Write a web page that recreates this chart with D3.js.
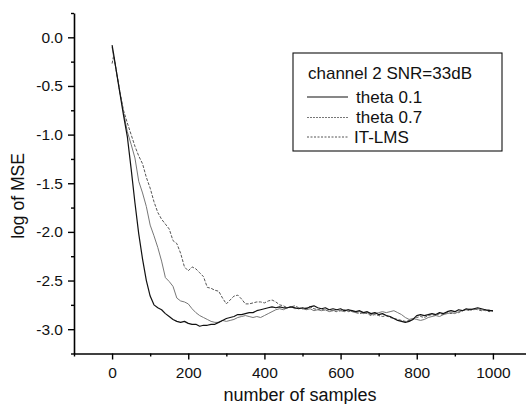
<!DOCTYPE html>
<html>
<head>
<meta charset="utf-8">
<script src="https://cdn.jsdelivr.net/npm/d3@7/dist/d3.min.js"></script>
<style>
  html, body { margin: 0; padding: 0; background: #fff; }
  svg { display: block; font-family: "Liberation Sans", Arial, Helvetica, sans-serif; }
</style>
</head>
<body>
<svg id="chart" width="526" height="404"></svg>
<script>
// ---- data ----
const samples = [0, 4, 10, 20, 30, 40, 50, 60, 70, 80, 90, 100, 110, 120, 130, 140, 150, 160, 170, 180, 190,
  200, 210, 220, 230, 240, 250, 260, 270, 280, 290, 300, 310, 320, 330, 340, 350, 360, 370, 380, 390,
  400, 410, 420, 430, 440, 450, 460, 470, 480, 490, 500, 510, 520, 530, 540, 550, 560, 570, 580, 590,
  600, 610, 620, 630, 640, 650, 660, 670, 680, 690, 700, 710, 720, 730, 740, 750, 760, 770, 780, 790,
  800, 810, 820, 830, 840, 850, 860, 870, 880, 890, 900, 910, 920, 930, 940, 950, 960, 970, 980, 990, 1000];

const theta01 = [-0.08, -0.17, -0.32, -0.56, -0.80, -1.02, -1.35, -1.70, -2.02, -2.28, -2.50,
  -2.66, -2.75, -2.78, -2.80, -2.84, -2.87, -2.90, -2.92, -2.93, -2.92,
  -2.94, -2.95, -2.95, -2.97, -2.96, -2.96, -2.95, -2.95, -2.93, -2.91,
  -2.89, -2.88, -2.87, -2.85, -2.85, -2.84, -2.83, -2.83, -2.81, -2.80,
  -2.79, -2.78, -2.77, -2.78, -2.77, -2.78, -2.78, -2.77, -2.78, -2.79,
  -2.78, -2.79, -2.77, -2.76, -2.78, -2.79, -2.78, -2.80, -2.79, -2.80,
  -2.79, -2.81, -2.80, -2.81, -2.82, -2.81, -2.83, -2.82, -2.84, -2.83,
  -2.85, -2.84, -2.86, -2.87, -2.89, -2.91, -2.92, -2.93, -2.92, -2.90,
  -2.86, -2.85, -2.86, -2.85, -2.84, -2.85, -2.83, -2.84, -2.82, -2.81,
  -2.82, -2.80, -2.81, -2.79, -2.80, -2.79, -2.78, -2.79, -2.80, -2.81, -2.81];

const theta07 = [-0.10, -0.20, -0.32, -0.55, -0.77, -0.97, -1.10, -1.24, -1.48, -1.60, -1.74,
  -1.93, -2.04, -2.16, -2.30, -2.47, -2.51, -2.56, -2.68, -2.71, -2.72,
  -2.74, -2.79, -2.83, -2.86, -2.88, -2.90, -2.92, -2.93, -2.93, -2.91,
  -2.92, -2.91, -2.90, -2.88, -2.87, -2.86, -2.87, -2.88, -2.87, -2.88,
  -2.86, -2.84, -2.82, -2.80, -2.79, -2.80, -2.78, -2.77, -2.79, -2.78,
  -2.79, -2.80, -2.79, -2.81, -2.80, -2.81, -2.80, -2.82, -2.81, -2.80,
  -2.81, -2.82, -2.80, -2.82, -2.83, -2.82, -2.84, -2.83, -2.85, -2.84,
  -2.83, -2.82, -2.83, -2.82, -2.81, -2.83, -2.85, -2.88, -2.90, -2.89,
  -2.90, -2.91, -2.90, -2.88, -2.87, -2.86, -2.87, -2.85, -2.84, -2.83,
  -2.84, -2.82, -2.81, -2.80, -2.79, -2.80, -2.79, -2.80, -2.81, -2.80, -2.82];

const itlms = [-0.27, -0.19, -0.32, -0.55, -0.75, -0.88, -1.00, -1.12, -1.22, -1.30, -1.44,
  -1.55, -1.69, -1.80, -1.87, -1.92, -1.97, -2.09, -2.12, -2.22, -2.36,
  -2.40, -2.36, -2.38, -2.42, -2.46, -2.57, -2.58, -2.60, -2.61, -2.68,
  -2.74, -2.70, -2.66, -2.65, -2.69, -2.74, -2.74, -2.73, -2.72, -2.72,
  -2.73, -2.71, -2.70, -2.72, -2.75, -2.76, -2.78, -2.77, -2.76, -2.78,
  -2.79, -2.78, -2.77, -2.79, -2.80, -2.79, -2.81, -2.80, -2.81, -2.82,
  -2.81, -2.80, -2.82, -2.81, -2.83, -2.84, -2.83, -2.84, -2.86, -2.85,
  -2.86, -2.87, -2.86, -2.88, -2.89, -2.90, -2.91, -2.92, -2.91, -2.90,
  -2.88, -2.87, -2.88, -2.86, -2.85, -2.86, -2.84, -2.85, -2.83, -2.84,
  -2.82, -2.83, -2.81, -2.80, -2.81, -2.79, -2.80, -2.81, -2.80, -2.82, -2.81];

const xMajorTicks = [0, 200, 400, 600, 800, 1000];
const xMinorTicks = [-100, 100, 300, 500, 700, 900, 1100];
const yMajorTicks = [0.0, -0.5, -1.0, -1.5, -2.0, -2.5, -3.0];
const yMinorTicks = [0.25, -0.25, -0.75, -1.25, -1.75, -2.25, -2.75, -3.25];

const seriesNames = ["theta 0.1", "theta 0.7", "IT-LMS"];
const legendTitle = "channel 2 SNR=33dB";
const xTitle = "number of samples";
const yTitle = "log of MSE";

// ---- drawing ----
const svg = d3.select("#chart");
const x = d3.scaleLinear().domain([-100, 1100]).range([74, 531]);
const y = d3.scaleLinear().domain([-3.25, 0.25]).range([353.5, 13]);

const styles = [
  { stroke: "#111", width: 1.2, dash: null },
  { stroke: "#777", width: 1.0, dash: null },
  { stroke: "#555", width: 1.0, dash: "3,1.5" }
];
const allSeries = [theta01, theta07, itlms];

const line = d3.line().x((d, i) => x(samples[i])).y(d => y(d));

// draw in reverse so theta 0.1 is on top
[2, 1, 0].forEach(k => {
  svg.append("path")
    .datum(allSeries[k])
    .attr("fill", "none")
    .attr("stroke", styles[k].stroke)
    .attr("stroke-width", styles[k].width)
    .attr("stroke-dasharray", styles[k].dash)
    .attr("stroke-linejoin", "round")
    .attr("d", line);
});

// axes
const tickFont = "15.5px";
const xAxisG = svg.append("g").attr("transform", "translate(0,353.5)");
xAxisG.call(d3.axisBottom(x).tickValues(xMajorTicks).tickSize(6).tickSizeOuter(0).tickPadding(7)
  .tickFormat(d => String(d)));
const xMinorG = svg.append("g").attr("transform", "translate(0,353.5)");
xMinorG.call(d3.axisBottom(x).tickValues(xMinorTicks).tickSize(3).tickSizeOuter(0).tickFormat(""));
xMinorG.select(".domain").remove();

const yAxisG = svg.append("g").attr("transform", "translate(74,0)");
yAxisG.call(d3.axisLeft(y).tickValues(yMajorTicks).tickSize(6).tickSizeOuter(0).tickPadding(5)
  .tickFormat(d => d.toFixed(1)));
const yMinorG = svg.append("g").attr("transform", "translate(74,0)");
yMinorG.call(d3.axisLeft(y).tickValues(yMinorTicks).tickSize(3).tickSizeOuter(0).tickFormat(""));
yMinorG.select(".domain").remove();

[xAxisG, yAxisG, xMinorG, yMinorG].forEach(g => {
  g.selectAll("path.domain").attr("stroke", "#000").attr("stroke-width", 1.6);
  g.selectAll(".tick line").attr("stroke", "#000").attr("stroke-width", 1.4);
  g.selectAll("text").attr("fill", "#111").style("font-size", tickFont)
    .style("font-family", "'Liberation Sans', Arial, sans-serif");
});

// axis titles
svg.append("text")
  .attr("x", 300).attr("y", 401)
  .attr("text-anchor", "middle")
  .style("font-size", "18px").attr("fill", "#111")
  .text(xTitle);
svg.append("text")
  .attr("transform", "translate(24,196) rotate(-90)")
  .attr("text-anchor", "middle")
  .style("font-size", "17.5px").attr("fill", "#111")
  .text(yTitle);

// legend
const lg = svg.append("g");
lg.append("rect")
  .attr("x", 293).attr("y", 53).attr("width", 209).attr("height", 98)
  .attr("fill", "#fff").attr("stroke", "#111").attr("stroke-width", 1.1);
lg.append("text")
  .attr("x", 308).attr("y", 79)
  .style("font-size", "17px").attr("fill", "#111")
  .text(legendTitle);
const rowY = [97, 117.5, 137];
seriesNames.forEach((name, k) => {
  lg.append("line")
    .attr("x1", 307).attr("x2", 348)
    .attr("y1", rowY[k]).attr("y2", rowY[k])
    .attr("stroke", styles[k].stroke)
    .attr("stroke-width", styles[k].width)
    .attr("stroke-dasharray", k === 0 ? null : (k === 1 ? "2,1" : "2,1.5"));
  lg.append("text")
    .attr("x", k === 2 ? 354 : 356).attr("y", rowY[k] + 5.5)
    .style("font-size", "17px").attr("fill", "#111")
    .text(name);
});
</script>
</body>
</html>
